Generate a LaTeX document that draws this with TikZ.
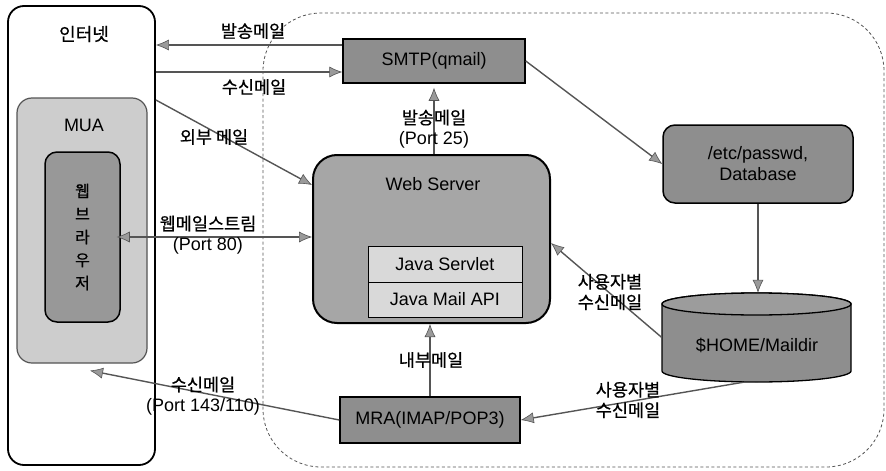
\documentclass[tikz,border=0pt]{standalone}
\usepackage{fontspec}
\setmainfont{Liberation Sans}
\newfontfamily\kr[FakeBold=0.6]{Noto Sans CJK KR}
\usetikzlibrary{arrows.meta}

\definecolor{boxgray}{HTML}{8E8E8E}
\definecolor{webgray}{HTML}{A6A6A6}
\definecolor{muagray}{HTML}{CDCDCD}
\definecolor{browsergray}{HTML}{989898}
\definecolor{javagray}{HTML}{D9D9D9}
\definecolor{cyltop}{HTML}{9C9C9C}
\definecolor{linegray}{HTML}{555555}
\definecolor{tipgray}{HTML}{9A9A9A}
\definecolor{zonegray}{HTML}{555555}

\tikzset{
  latin/.style={font=\fontsize{18}{21}\selectfont, inner sep=0pt},
  kor/.style={font=\kr\fontsize{17.5}{20}\selectfont, inner sep=0pt},
  mixed/.style={font=\fontsize{17.5}{20.5}\selectfont, align=center, inner sep=0pt},
  graybox/.style={draw=black, line width=1.5pt, fill=boxgray, latin, align=center},
  javabox/.style={draw=black, line width=1pt, fill=javagray, latin},
  flow/.style={draw=linegray, line width=1.4pt,
    -{Latex[length=13pt,width=11pt,fill=tipgray,color=linegray,line width=0.6pt]}},
  bothflow/.style={draw=linegray, line width=1.4pt,
    {Latex[length=13pt,width=11pt,fill=tipgray,color=linegray,line width=0.6pt]}-{Latex[length=13pt,width=11pt,fill=tipgray,color=linegray,line width=0.6pt]}},
  zone/.style={draw=zonegray, line width=0.8pt, dash pattern=on 3pt off 2.5pt, rounded corners=58pt}
}

\begin{document}
\begin{tikzpicture}[x=1pt,y=-1pt]
\useasboundingbox (0,0) rectangle (886,471);
\fill[white] (0,0) rectangle (886,471);

% server side zone
\draw[zone] (263,13) rectangle (884,467);

% client side: internet / MUA / web browser
\node[draw=black, line width=1.8pt, fill=white, rounded corners=16pt,
      minimum width=147pt, minimum height=459pt] (inet) at (81.5,235.5) {};
\node[font=\kr\fontsize{18}{20}\selectfont, inner sep=0pt] (inettitle) at (84,34) {인터넷};
\node[draw=linegray, line width=1.2pt, fill=muagray, rounded corners=15pt,
      minimum width=130pt, minimum height=265pt] (mua) at (82,230.5) {};
\node[latin] (muatitle) at (84,125) {MUA};
\node[draw=black, line width=1.5pt, fill=browsergray, rounded corners=12pt,
      minimum width=75pt, minimum height=170pt, align=center,
      font=\kr\fontsize{16}{23}\selectfont] (browser) at (82.5,237) {웹\\브\\라\\우\\저};

% mail servers
\node[graybox, minimum width=182pt, minimum height=44pt] (smtp) at (434,61) {SMTP(qmail)};
\node[draw=black, line width=2pt, fill=webgray, rounded corners=24pt,
      minimum width=237pt, minimum height=168pt] (web) at (431.5,239) {};
\node[latin] (webtitle) at (433,184) {Web Server};
\node[javabox, minimum width=154pt, minimum height=36pt] (servlet) at (445,264) {Java Servlet};
\node[javabox, minimum width=154pt, minimum height=35pt] (mailapi) at (445,299.5) {Java Mail API};
\node[graybox, rounded corners=12pt, minimum width=190pt, minimum height=78pt] (passwd) at (758,164) {/etc/passwd,\\Database};
\node[graybox, minimum width=180pt, minimum height=46pt] (mra) at (430,420) {MRA(IMAP/POP3)};

% mail store cylinder
\node[minimum width=189pt, minimum height=89pt, inner sep=0pt] (maildir) at (756.5,337.5) {};
\path[fill=boxgray, draw=black, line width=1.3pt]
  (662,304) -- (662,371) arc[start angle=180, end angle=0, x radius=94.5, y radius=11]
  -- (851,304) arc[start angle=0, end angle=-180, x radius=94.5, y radius=11] -- cycle;
\fill[cyltop] (756.5,304) ellipse[x radius=94.5, y radius=11];
\draw[black, line width=1.3pt] (756.5,304) ellipse[x radius=94.5, y radius=11];
\node[latin] (maildirtext) at (757,345) {\$HOME/Maildir};

% connectors
\coordinate (sendA) at ([yshift=16pt]smtp.west);
\coordinate (recvA) at ([yshift=-11pt]smtp.west);
\coordinate (extA) at ([yshift=135.5pt]inet.east);
\coordinate (extB) at ([yshift=54pt]web.west);
\coordinate (userB) at ([yshift=-4pt]web.east);
\coordinate (storeOut) at ([xshift=-13pt]maildir.south);
\coordinate (muaIn) at ([shift={(8pt,-7pt)}]mua.south);

\draw[flow] (sendA) -- (inet.east |- sendA);
\draw[flow] (inet.east |- recvA) -- (recvA);
\draw[flow] (extA) -- (extB);
\draw[flow, shorten >=4pt] (smtp.south |- web.north) -- (smtp.south);
\draw[bothflow, shorten <=-4pt] (browser.east) -- (browser.east -| web.west);
\draw[flow] (smtp.east) -- (passwd.west);
\draw[flow] (passwd.south) -- (passwd.south |- maildir.north);
\draw[flow] (maildir.west) -- (userB);
\draw[flow] (storeOut) -- (mra.east);
\draw[flow] (mra.north) -- (mra.north |- web.south);
\draw[flow] (mra.west) -- (muaIn);

% connector labels
\node[kor] (lsend) at (253,31) {발송메일};
\node[kor] (lrecv) at (254,87) {수신메일};
\node[kor] (lext) at (214,137) {외부 메일};
\node[mixed] (lport25) at (434,129) {{\kr 발송메일}\\{\fontsize{18}{20}\selectfont (Port 25)}};
\node[mixed] (lport80) at (208,235) {{\kr 웹메일스트림}\\{\fontsize{18}{20}\selectfont (Port 80)}};
\node[mixed] (luser1) at (610,292) {{\kr 사용자별}\\{\kr 수신메일}};
\node[mixed] (luser2) at (628,400) {{\kr 사용자별}\\{\kr 수신메일}};
\node[kor] (linner) at (431,360) {내부메일};
\node[mixed] (lport143) at (203,396) {{\kr 수신메일}\\{\fontsize{18}{20}\selectfont (Port 143/110)}};
\end{tikzpicture}
\end{document}
